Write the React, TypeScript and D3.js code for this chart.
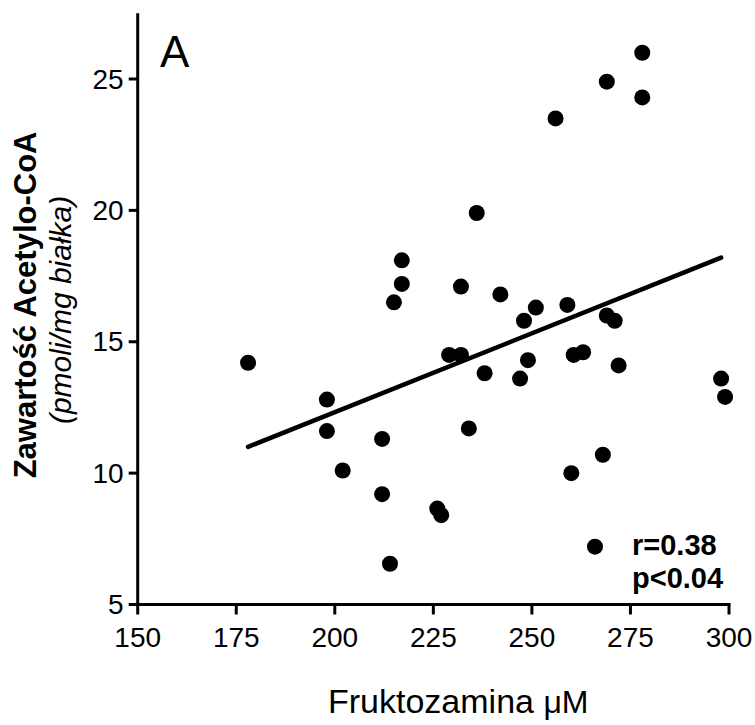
import React from "react";
import * as d3 from "d3";

const fruktozamina: number[] = [
  178, 198, 198, 202, 212, 212, 214, 215, 217, 217,
  226, 227, 229, 232, 232, 234, 236, 238, 242, 247,
  248, 249, 251, 256, 259, 260, 260.6, 263, 266, 268,
  269, 269, 271, 272, 278, 278, 298, 299,
];
const acetyloCoA: number[] = [
  14.2, 12.8, 11.6, 10.1, 11.3, 9.2, 6.55, 16.5, 18.1, 17.2,
  8.65, 8.4, 14.5, 14.5, 17.1, 11.7, 19.9, 13.8, 16.8, 13.6,
  15.8, 14.3, 16.3, 23.5, 16.4, 10.0, 14.5, 14.6, 7.2, 10.7,
  16.0, 24.9, 15.8, 14.1, 26.0, 24.3, 13.6, 12.9,
];
const fitX: number[] = [178, 298];
const fitY: number[] = [11.0, 18.2];
const xTicks: number[] = [150, 175, 200, 225, 250, 275, 300];
const yTicks: number[] = [5, 10, 15, 20, 25];
const yTop = 27.5;

const W = 755;
const H = 725;
const FONT = "'Liberation Sans', Arial, Helvetica, sans-serif";

export default function App() {
  const x = d3.scaleLinear().domain([150, 300]).range([137.7, 729]);
  const y = d3.scaleLinear().domain([5, 25]).range([604.5, 79]);
  const pts = fruktozamina.map((v, i) => [v, acetyloCoA[i]] as [number, number]);
  const line = d3
    .line<[number, number]>()
    .x((d) => x(d[0]))
    .y((d) => y(d[1]));
  const fit = fitX.map((v, i) => [v, fitY[i]] as [number, number]);
  const x0 = x(150);
  const y0 = y(5);
  const yCenter = (y(yTop) + y0) / 2;

  return (
    <svg
      width={W}
      height={H}
      style={{ position: "absolute", left: 0, top: 0, background: "#fff" }}
      fontFamily={FONT}
    >
      <rect x={0} y={0} width={W} height={H} fill="#fff" />
      {/* axes */}
      <line x1={x0} x2={x0} y1={y(yTop)} y2={y0 + 1.5} stroke="#000" strokeWidth={3} />
      <line x1={x0 - 1.5} x2={x(300) + 1.5} y1={y0} y2={y0} stroke="#000" strokeWidth={3} />
      {yTicks.map((t) => (
        <g key={"y" + t}>
          <line x1={x0 - 9} x2={x0} y1={y(t)} y2={y(t)} stroke="#000" strokeWidth={3} />
          <text x={x0 - 14} y={y(t)} textAnchor="end" dominantBaseline="central" fontSize={28}>
            {t}
          </text>
        </g>
      ))}
      {xTicks.map((t) => (
        <g key={"x" + t}>
          <line x1={x(t)} x2={x(t)} y1={y0} y2={y0 + 10} stroke="#000" strokeWidth={3} />
          <text x={x(t)} y={647} textAnchor="middle" fontSize={28}>
            {t}
          </text>
        </g>
      ))}
      {/* regression line */}
      <path d={line(fit) || ""} stroke="#000" strokeWidth={4.5} fill="none" strokeLinecap="round" />
      {/* points */}
      {pts.map((d, i) => (
        <circle key={i} cx={x(d[0])} cy={y(d[1])} r={8} fill="#000" />
      ))}
      {/* panel letter */}
      <text x={160} y={67} fontSize={44}>
        A
      </text>
      {/* stats */}
      <text x={632} y={555} fontSize={29} fontWeight="bold">
        r=0.38
      </text>
      <text x={632} y={588} fontSize={29} fontWeight="bold">
        p&lt;0.04
      </text>
      {/* x title */}
      <text x={328} y={713} textAnchor="start" fontSize={34}>
        Fruktozamina <tspan fontSize={32}>μM</tspan>
      </text>
      {/* y title */}
      <text
        transform={`translate(36,${yCenter - 4}) rotate(-90)`}
        textAnchor="middle"
        fontSize={31}
        fontWeight="bold"
      >
        Zawartość Acetylo-CoA
      </text>
      <text
        transform={`translate(71,${yCenter + 1}) rotate(-90)`}
        textAnchor="middle"
        fontSize={30}
        fontStyle="italic"
      >
        (pmoli/mg białka)
      </text>
    </svg>
  );
}
